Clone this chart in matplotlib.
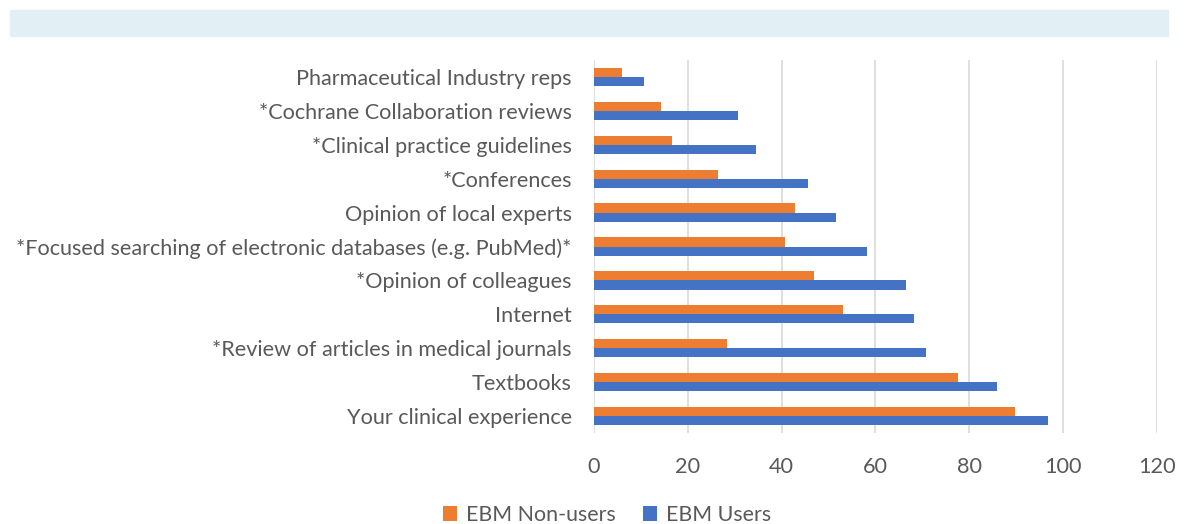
import matplotlib.pyplot as plt
import matplotlib.patches as mpatches
import numpy as np

plt.rcParams['font.family'] = ['Lato', 'DejaVu Sans']

categories = ["Your clinical experience", "Textbooks", "*Review of articles in medical journals",
              "Internet", "*Opinion of colleagues",
              "*Focused searching of electronic databases (e.g. PubMed)*",
              "Opinion of local experts", "*Conferences", "*Clinical practice guidelines",
              "*Cochrane Collaboration reviews", "Pharmaceutical Industry reps"]
users = [96.7, 85.8, 70.8, 68.2, 66.6, 58.2, 51.6, 45.7, 34.6, 30.7, 10.7]
non_users = [89.8, 77.5, 28.4, 53.0, 46.8, 40.7, 42.8, 26.4, 16.6, 14.2, 6.0]
xticks = [0, 20, 40, 60, 80, 100, 120]

grey = '#595959'
c_orange = '#ED7D31'
c_blue = '#4472C4'

fig = plt.figure(figsize=(11.84, 5.24), dpi=100)
# light header band
fig.patches.append(mpatches.Rectangle((10/1184, 1-36/524), 1158/1184, 26/524,
                                      transform=fig.transFigure, color='#E2F0F5', zorder=0))

ax = fig.add_axes([594/1184, 1-433/524, 563/1184, 373/524])
y = np.arange(len(categories))
h = 0.27
ax.barh(y - h/2, users, height=h, color=c_blue, label='EBM Users', zorder=3)
ax.barh(y + h/2, non_users, height=h, color=c_orange, label='EBM Non-users', zorder=3)

ax.set_xlim(0, 120)
ax.set_ylim(-0.5, len(categories) - 0.5)
ax.set_xticks(xticks)
ax.set_yticks(y)
ax.set_yticklabels(categories)
ax.tick_params(axis='both', length=0, labelsize=15.6, colors=grey)
ax.tick_params(axis='y', pad=16)
ax.tick_params(axis='x', pad=17)
ax.grid(axis='x', color='#D9D9D9', linewidth=1.2, zorder=0)
for s in ax.spines.values():
    s.set_visible(False)

handles, labels = ax.get_legend_handles_labels()
fig.legend(handles[::-1], labels[::-1], loc='center', bbox_to_anchor=(607/1184, 1-515/524),
           ncol=2, frameon=False, fontsize=15.4, labelcolor=grey, handlelength=0.65,
           handleheight=0.65, handletextpad=0.4, columnspacing=1.3)

fig.savefig('out.png', dpi=100)
